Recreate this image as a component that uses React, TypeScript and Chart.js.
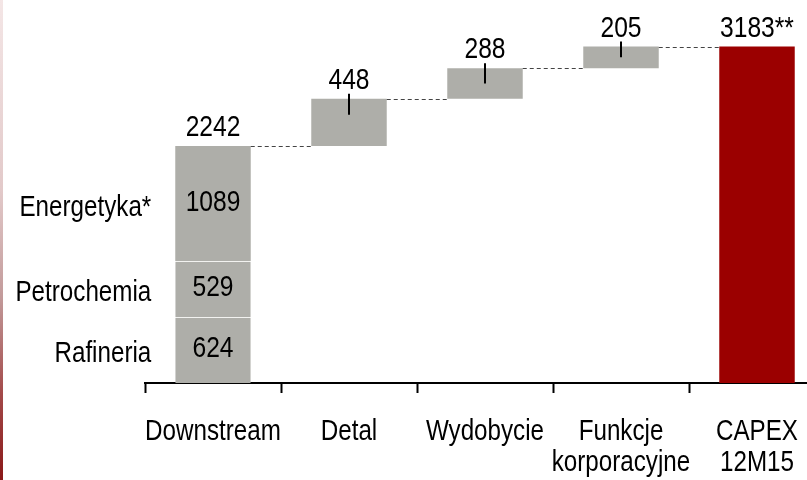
import React, { useEffect, useRef } from "react";
import { Chart, registerables } from "chart.js";

Chart.register(...registerables);

// ---- data ----
const categoryLines: string[][] = [
  ["Downstream"],
  ["Detal"],
  ["Wydobycie"],
  ["Funkcje", "korporacyjne"],
  ["CAPEX", "12M15"],
];
const segmentLabels = ["Rafineria", "Petrochemia", "Energetyka*"];
const segmentValues = [624, 529, 1089];
const stepValues = [448, 288, 205]; // Detal, Wydobycie, Funkcje korporacyjne
const totalValue = 3183;
const totalLabel = "3183**";

const GRAY = "#aeaea9";
const RED = "#9b0000";

function narrowAvailable(): boolean {
  const c = document.createElement("canvas").getContext("2d");
  if (!c) return false;
  c.font = '100px monospace';
  const a = c.measureText("Downstream korporacyjne").width;
  c.font = '100px "Liberation Sans Narrow", monospace';
  const b = c.measureText("Downstream korporacyjne").width;
  return Math.abs(a - b) > 1;
}

export default function App() {
  const ref = useRef<HTMLCanvasElement | null>(null);

  useEffect(() => {
    const canvas = ref.current;
    if (!canvas) return;
    const hasNarrow = narrowAvailable();

    const drawText = (
      ctx: CanvasRenderingContext2D,
      text: string,
      x: number,
      y: number,
      size: number,
      align: CanvasTextAlign
    ) => {
      ctx.save();
      ctx.fillStyle = "#000";
      ctx.textAlign = align;
      ctx.textBaseline = "alphabetic";
      if (hasNarrow) {
        ctx.font = `${size}px "Liberation Sans Narrow"`;
        ctx.fillText(text, x, y);
      } else {
        ctx.translate(x, y);
        ctx.scale(0.82, 1);
        ctx.font = `${size}px "Liberation Sans", Arial, sans-serif`;
        ctx.fillText(text, 0, 0);
      }
      ctx.restore();
    };

    const n = categoryLines.length;
    const empty = () => new Array(n).fill(null);

    const datasets: any[] = [];
    let cum = 0;
    segmentValues.forEach((v, i) => {
      const d = empty();
      d[0] = [cum, cum + v];
      cum += v;
      datasets.push({
        label: segmentLabels[i],
        data: d,
        backgroundColor: GRAY,
        borderColor: "#f2f2f0",
        borderWidth: i < segmentValues.length - 1 ? { top: 1, left: 0, right: 0, bottom: 0 } : 0,
        borderSkipped: false,
        grouped: false,
      });
    });
    const downstreamTotal = cum;
    const stepData = empty();
    stepValues.forEach((v, i) => {
      stepData[i + 1] = [cum, cum + v];
      cum += v;
    });
    datasets.push({
      label: "steps",
      data: stepData,
      backgroundColor: GRAY,
      borderWidth: 0,
      grouped: false,
    });
    const totData = empty();
    totData[n - 1] = [0, totalValue];
    datasets.push({
      label: "total",
      data: totData,
      backgroundColor: RED,
      borderWidth: 0,
      grouped: false,
    });

    const overlay = {
      id: "overlay",
      afterDatasetsDraw(chart: any) {
        const ctx: CanvasRenderingContext2D = chart.ctx;
        const ys = chart.scales.y;
        const xs = chart.scales.x;
        const segCount = segmentValues.length;
        const bars: { x: number; w: number; bottom: number; top: number }[] = [];
        const dsEl = chart.getDatasetMeta(segCount - 1).data[0];
        bars.push({ x: dsEl.x, w: dsEl.width, bottom: 0, top: downstreamTotal });
        const stepMeta = chart.getDatasetMeta(segCount);
        stepValues.forEach((_, i) => {
          const el = stepMeta.data[i + 1];
          const r = stepData[i + 1] as number[];
          bars.push({ x: el.x, w: el.width, bottom: r[0], top: r[1] });
        });
        const totEl = chart.getDatasetMeta(segCount + 1).data[n - 1];
        bars.push({ x: totEl.x, w: totEl.width, bottom: 0, top: totalValue });

        // connectors
        ctx.save();
        ctx.strokeStyle = "#444";
        ctx.lineWidth = 1;
        ctx.setLineDash([4, 3]);
        for (let j = 0; j < bars.length - 1; j++) {
          const yy = Math.round(ys.getPixelForValue(bars[j].top)) + 0.5;
          ctx.beginPath();
          ctx.moveTo(bars[j].x + bars[j].w / 2, yy);
          ctx.lineTo(bars[j + 1].x - bars[j + 1].w / 2, yy);
          ctx.stroke();
        }
        ctx.restore();

        // small markers on step bars
        ctx.save();
        ctx.strokeStyle = "#000";
        ctx.lineWidth = 2;
        for (let j = 1; j <= stepValues.length; j++) {
          const t = ys.getPixelForValue(bars[j].top);
          const b = ys.getPixelForValue(bars[j].bottom);
          const h = b - t;
          ctx.beginPath();
          ctx.moveTo(Math.round(bars[j].x), t - 5);
          ctx.lineTo(Math.round(bars[j].x), t + Math.min(16, h / 2));
          ctx.stroke();
        }
        ctx.restore();

        // top value labels
        const topTexts = [
          String(downstreamTotal),
          ...stepValues.map((v) => String(v)),
          totalLabel,
        ];
        bars.forEach((b, j) => {
          drawText(ctx, topTexts[j], b.x, ys.getPixelForValue(b.top) - 10, 30, "center");
        });

        // segment labels
        let c = 0;
        segmentValues.forEach((v, i) => {
          const p0 = ys.getPixelForValue(c);
          const p1 = ys.getPixelForValue(c + v);
          c += v;
          const mid = (p0 + p1) / 2;
          drawText(ctx, String(v), bars[0].x, mid + 7, 30, "center");
          drawText(ctx, segmentLabels[i], bars[0].x - bars[0].w / 2 - 24, mid + 12, 29.5, "right");
        });

        // category labels
        const base = chart.chartArea.bottom;
        categoryLines.forEach((lines, j) => {
          const cx = xs.getPixelForValue(j);
          lines.forEach((ln, k) => {
            drawText(ctx, ln, cx, base + 57 + 31 * k, 29.5, "center");
          });
        });
      },
    };

    const chart = new Chart(canvas, {
      type: "bar",
      data: {
        labels: categoryLines.map((l) => l.join(" ")),
        datasets,
      },
      options: {
        responsive: false,
        animation: false,
        devicePixelRatio: 1,
        categoryPercentage: 1,
        barPercentage: 0.555,
        layout: { padding: { left: 145, right: 5, top: 13, bottom: 0 } },
        plugins: {
          legend: { display: false },
          tooltip: { enabled: false },
        },
        scales: {
          x: {
            type: "category",
            offset: true,
            grid: {
              offset: true,
              drawOnChartArea: false,
              drawTicks: true,
              tickLength: 10,
              tickWidth: 2,
              color: "#000",
            },
            border: { display: true, color: "#000", width: 2 },
            ticks: { display: false },
            afterFit: (s: any) => {
              s.height = 97;
            },
          },
          y: {
            display: false,
            min: 0,
            max: 3500,
          },
        },
      } as any,
      plugins: [overlay],
    });
    return () => chart.destroy();
  }, []);

  return (
    <div
      style={{
        position: "fixed",
        left: 0,
        top: 0,
        width: 807,
        height: 480,
        overflow: "hidden",
        background: "#fff",
      }}
    >
      <canvas ref={ref} width={830} height={480} style={{ display: "block" }} />
      <div
        style={{
          position: "absolute",
          left: 0,
          top: 0,
          width: 3,
          height: 480,
          background:
            "linear-gradient(to bottom, #f4e6e6 0%, #e2c9c9 40%, #c29a9a 62%, #a34a4a 82%, #8a1818 100%)",
        }}
      />
    </div>
  );
}
